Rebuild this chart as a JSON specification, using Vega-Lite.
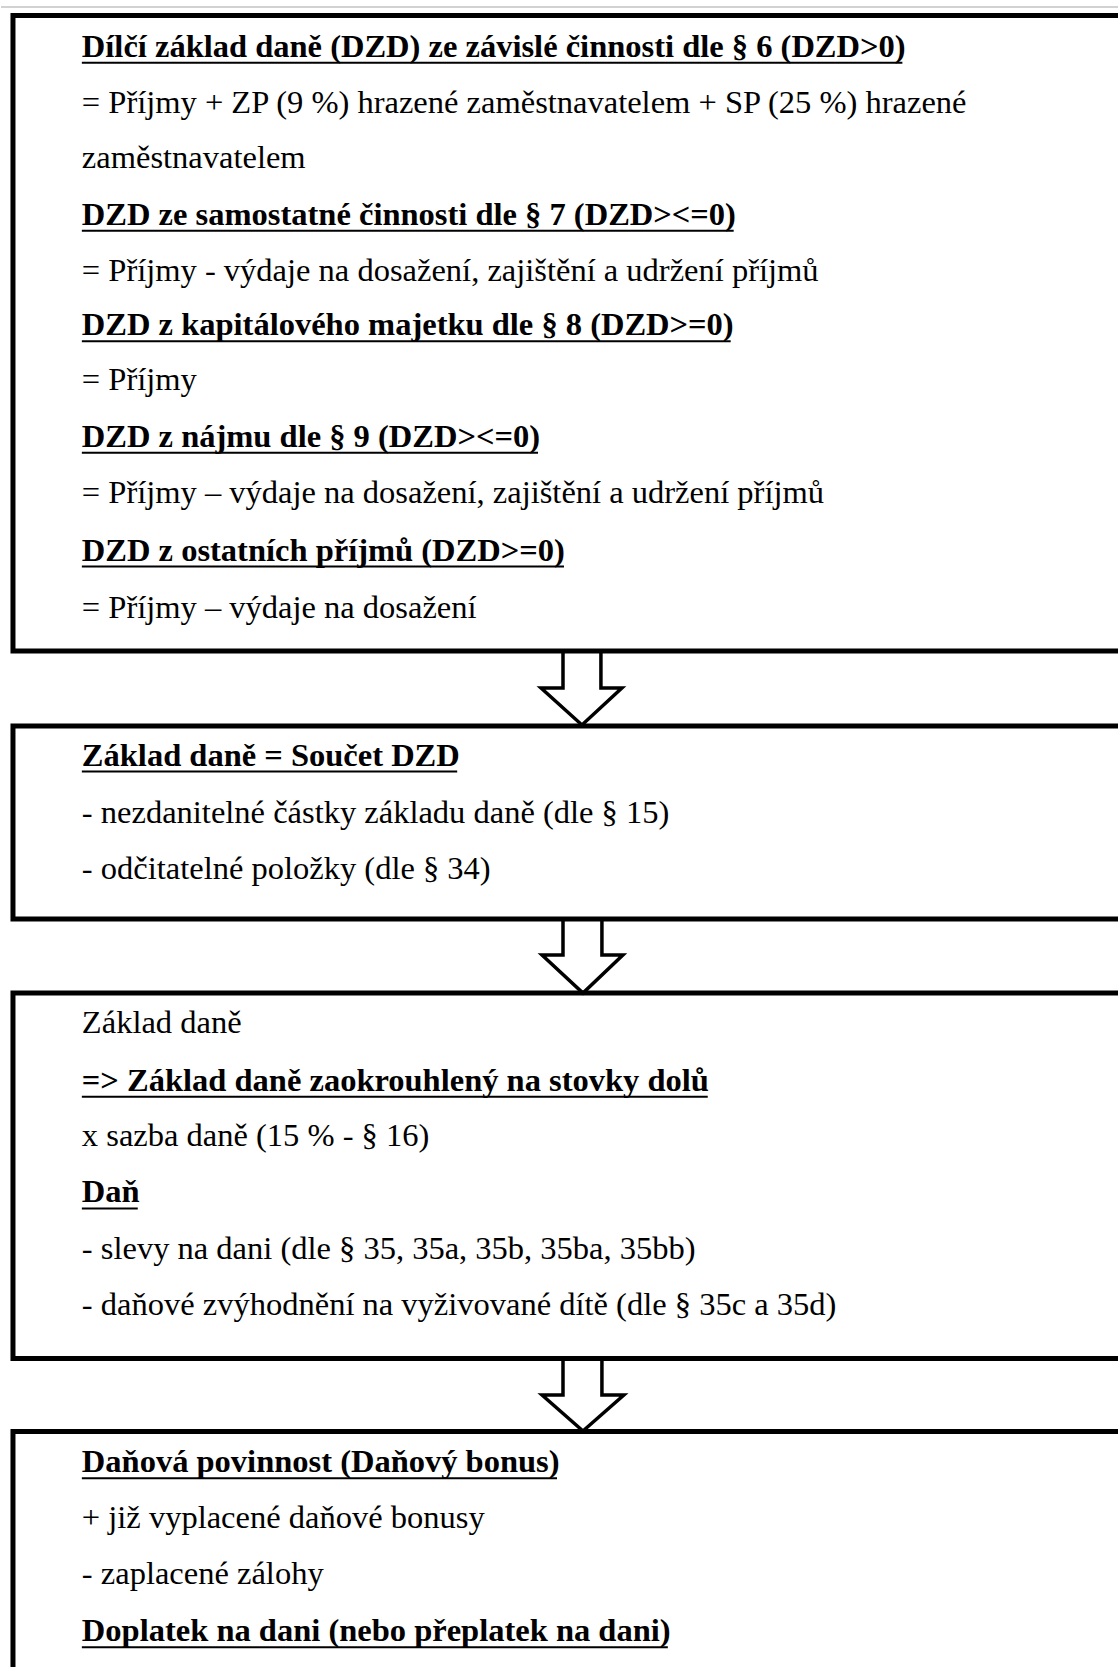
{
  "$schema": "https://vega.github.io/schema/vega-lite/v6.json",
  "width": 1119,
  "height": 1667,
  "autosize": {"type": "fit", "contains": "padding"},
  "padding": 0,
  "background": "white",
  "config": {"view": {"stroke": null}},
  "datasets": {
    "boxes": [
      {"box": 1, "left": 12, "right": 1140, "top": 15.5, "bottom": 651},
      {"box": 2, "left": 12, "right": 1140, "top": 726, "bottom": 919},
      {"box": 3, "left": 12, "right": 1140, "top": 993, "bottom": 1358.5},
      {"box": 4, "left": 12, "right": 1140, "top": 1431.5, "bottom": 1700}
    ],
    "arrows": [
      {"arrow": 1, "i": 1, "x": 563, "y": 651},
      {"arrow": 1, "i": 2, "x": 563, "y": 688},
      {"arrow": 1, "i": 3, "x": 541, "y": 688},
      {"arrow": 1, "i": 4, "x": 582, "y": 725},
      {"arrow": 1, "i": 5, "x": 622, "y": 688},
      {"arrow": 1, "i": 6, "x": 601, "y": 688},
      {"arrow": 1, "i": 7, "x": 601, "y": 651},
      {"arrow": 2, "i": 1, "x": 563, "y": 919},
      {"arrow": 2, "i": 2, "x": 563, "y": 955},
      {"arrow": 2, "i": 3, "x": 542, "y": 955},
      {"arrow": 2, "i": 4, "x": 583, "y": 993},
      {"arrow": 2, "i": 5, "x": 623, "y": 955},
      {"arrow": 2, "i": 6, "x": 602, "y": 955},
      {"arrow": 2, "i": 7, "x": 602, "y": 919},
      {"arrow": 3, "i": 1, "x": 563, "y": 1358},
      {"arrow": 3, "i": 2, "x": 563, "y": 1395},
      {"arrow": 3, "i": 3, "x": 542, "y": 1395},
      {"arrow": 3, "i": 4, "x": 583, "y": 1431},
      {"arrow": 3, "i": 5, "x": 624, "y": 1395},
      {"arrow": 3, "i": 6, "x": 602, "y": 1395},
      {"arrow": 3, "i": 7, "x": 602, "y": 1358}
    ],
    "lines": [
      {"start": 81, "y": 55.3, "heading": true, "end": 903, "text": "Dílčí základ daně (DZD) ze závislé činnosti dle § 6 (DZD>0)"},
      {"start": 81, "y": 111.6, "heading": false, "end": 0, "text": "= Příjmy + ZP (9 %) hrazené zaměstnavatelem + SP (25 %) hrazené"},
      {"start": 81, "y": 166.8, "heading": false, "end": 0, "text": "zaměstnavatelem"},
      {"start": 81, "y": 223.2, "heading": true, "end": 734, "text": "DZD ze samostatné činnosti dle § 7 (DZD><=0)"},
      {"start": 81, "y": 279.5, "heading": false, "end": 0, "text": "= Příjmy - výdaje na dosažení, zajištění a udržení příjmů"},
      {"start": 81, "y": 333.7, "heading": true, "end": 731, "text": "DZD z kapitálového majetku dle § 8 (DZD>=0)"},
      {"start": 81, "y": 388.9, "heading": false, "end": 0, "text": "= Příjmy"},
      {"start": 81, "y": 445.3, "heading": true, "end": 538, "text": "DZD z nájmu dle § 9 (DZD><=0)"},
      {"start": 81, "y": 501.6, "heading": false, "end": 0, "text": "= Příjmy – výdaje na dosažení, zajištění a udržení příjmů"},
      {"start": 81, "y": 559.0, "heading": true, "end": 564, "text": "DZD z ostatních příjmů (DZD>=0)"},
      {"start": 81, "y": 616.4, "heading": false, "end": 0, "text": "= Příjmy – výdaje na dosažení"},
      {"start": 81, "y": 764.1, "heading": true, "end": 457, "text": "Základ daně = Součet DZD"},
      {"start": 81, "y": 821.5, "heading": false, "end": 0, "text": "- nezdanitelné částky základu daně (dle § 15)"},
      {"start": 81, "y": 877.8, "heading": false, "end": 0, "text": "- odčitatelné položky (dle § 34)"},
      {"start": 81, "y": 1031.9, "heading": false, "end": 0, "text": "Základ daně"},
      {"start": 81, "y": 1089.3, "heading": true, "end": 708, "text": "=> Základ daně zaokrouhlený na stovky dolů"},
      {"start": 81, "y": 1144.5, "heading": false, "end": 0, "text": "x sazba daně (15 % - § 16)"},
      {"start": 81, "y": 1200.9, "heading": true, "end": 137, "text": "Daň"},
      {"start": 81, "y": 1257.2, "heading": false, "end": 0, "text": "- slevy na dani (dle § 35, 35a, 35b, 35ba, 35bb)"},
      {"start": 81, "y": 1313.5, "heading": false, "end": 0, "text": "- daňové zvýhodnění na vyživované dítě (dle § 35c a 35d)"},
      {"start": 81, "y": 1470.8, "heading": true, "end": 557, "text": "Daňová povinnost (Daňový bonus)"},
      {"start": 81, "y": 1526.1, "heading": false, "end": 0, "text": "+ již vyplacené daňové bonusy"},
      {"start": 81, "y": 1582.4, "heading": false, "end": 0, "text": "- zaplacené zálohy"},
      {"start": 81, "y": 1639.8, "heading": true, "end": 668, "text": "Doplatek na dani (nebo přeplatek na dani)"}
    ]
  },
  "layer": [
    {
      "data": {"values": [{"from": 0, "to": 1119, "y": 7}]},
      "mark": {"type": "rule", "color": "#d2d2d2", "strokeWidth": 2},
      "encoding": {
        "x": {"field": "from", "type": "quantitative", "scale": {"domain": [0, 1119], "nice": false, "zero": false}, "axis": null},
        "x2": {"field": "to"},
        "y": {"field": "y", "type": "quantitative", "scale": {"domain": [0, 1667], "reverse": true, "nice": false, "zero": false}, "axis": null}
      }
    },
    {
      "data": {"name": "boxes"},
      "mark": {"type": "rect", "fill": "white", "fillOpacity": 0, "stroke": "black", "strokeWidth": 5, "clip": true},
      "encoding": {
        "x": {"field": "left", "type": "quantitative", "scale": {"domain": [0, 1119], "nice": false, "zero": false}, "axis": null},
        "x2": {"field": "right"},
        "y": {"field": "top", "type": "quantitative", "scale": {"domain": [0, 1667], "reverse": true, "nice": false, "zero": false}, "axis": null},
        "y2": {"field": "bottom"}
      }
    },
    {
      "data": {"name": "arrows"},
      "mark": {"type": "line", "stroke": "black", "strokeWidth": 3.5, "strokeJoin": "miter"},
      "encoding": {
        "x": {"field": "x", "type": "quantitative", "scale": {"domain": [0, 1119], "nice": false, "zero": false}, "axis": null},
        "y": {"field": "y", "type": "quantitative", "scale": {"domain": [0, 1667], "reverse": true, "nice": false, "zero": false}, "axis": null},
        "detail": {"field": "arrow", "type": "nominal"},
        "order": {"field": "i", "type": "quantitative"}
      }
    },
    {
      "data": {"name": "lines"},
      "transform": [{"filter": "!datum.heading"}],
      "mark": {"type": "text", "align": "left", "baseline": "alphabetic", "font": "Liberation Serif", "fontSize": 32.5, "fontWeight": "normal", "color": "black", "dy": 1.5},
      "encoding": {
        "x": {"field": "start", "type": "quantitative", "scale": {"domain": [0, 1119], "nice": false, "zero": false}, "axis": null},
        "y": {"field": "y", "type": "quantitative", "scale": {"domain": [0, 1667], "reverse": true, "nice": false, "zero": false}, "axis": null},
        "text": {"field": "text", "type": "nominal"}
      }
    },
    {
      "data": {"name": "lines"},
      "transform": [{"filter": "datum.heading"}],
      "mark": {"type": "text", "align": "left", "baseline": "alphabetic", "font": "Liberation Serif", "fontSize": 32.5, "fontWeight": "bold", "color": "black", "dy": 1.5},
      "encoding": {
        "x": {"field": "start", "type": "quantitative", "scale": {"domain": [0, 1119], "nice": false, "zero": false}, "axis": null},
        "y": {"field": "y", "type": "quantitative", "scale": {"domain": [0, 1667], "reverse": true, "nice": false, "zero": false}, "axis": null},
        "text": {"field": "text", "type": "nominal"}
      }
    },
    {
      "data": {"name": "lines"},
      "transform": [{"filter": "datum.heading"}],
      "mark": {"type": "rule", "color": "black", "strokeWidth": 2, "yOffset": 7.5},
      "encoding": {
        "x": {"field": "start", "type": "quantitative", "scale": {"domain": [0, 1119], "nice": false, "zero": false}, "axis": null},
        "x2": {"field": "end"},
        "y": {"field": "y", "type": "quantitative", "scale": {"domain": [0, 1667], "reverse": true, "nice": false, "zero": false}, "axis": null}
      }
    }
  ]
}
